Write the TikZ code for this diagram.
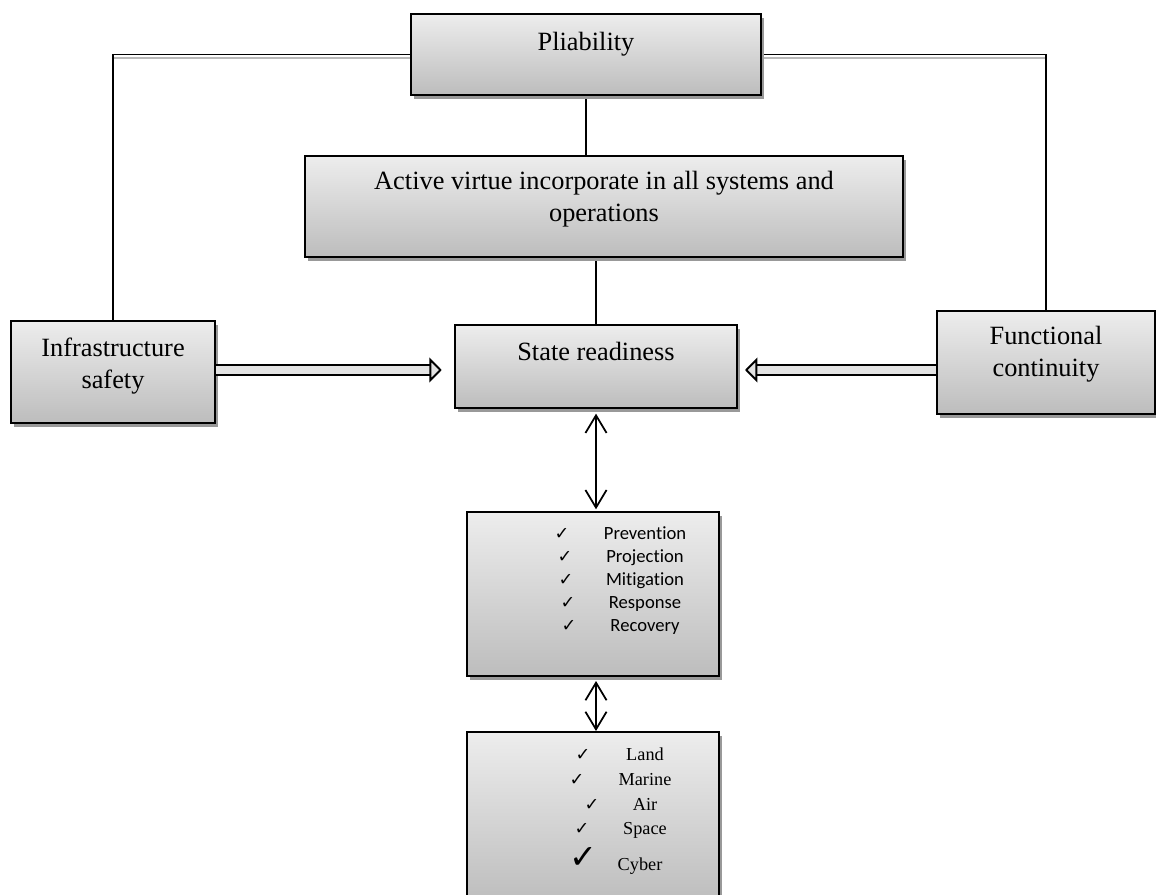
\documentclass[tikz,border=0pt]{standalone}
\usepackage{fontspec}
\setmainfont{Liberation Serif}
\newfontfamily\listfont[Ligatures=NoCommon]{Carlito}
\newfontfamily\tickfont{DejaVu Sans}
\usetikzlibrary{arrows.meta,shadows,backgrounds}

\begin{document}
\begin{tikzpicture}[
  x=0.02cm, y=-0.02cm,
  box/.style={draw, line width=1.1pt, top color=gray!14, bottom color=gray!52,
    drop shadow={shadow xshift=1.7pt, shadow yshift=-2.3pt, fill=gray!80, opacity=1},
    align=center, inner sep=0pt, font=\fontsize{15}{18}\selectfont},
  link/.style={line width=0.9pt, preaction={draw=gray!55, line width=0.9pt, transform canvas={yshift=-2pt}}},
  twoway/.style={line width=1pt, {Straight Barb[length=10pt,width=12pt]}-{Straight Barb[length=10pt,width=12pt]}},
  hollow/.style={line width=1.1pt, double=gray!22, double distance=4.6pt,
    -{Triangle[open, length=7pt, width=14pt, fill=gray!22]}},
  ticksign/.style={inner sep=0pt, font=\tickfont\fontsize{10}{12}\selectfont},
  phaseitem/.style={inner sep=0pt, font=\listfont\fontsize{10.6}{12}\selectfont},
  areaitem/.style={inner sep=0pt, font=\fontsize{10.4}{12}\selectfont}
]
\useasboundingbox (0,0) rectangle (1156,895);

% boxes
\node[box, minimum width=350*0.02cm, text height=20.4pt, text depth=25.5pt] (pliab) at (586,54.5) {Pliability};
\node[box, minimum width=598*0.02cm, minimum height=101*0.02cm] (virtue) at (604,206.5)
  {Active virtue incorporate in all systems and\\ operations\rule[-11.8pt]{0pt}{1pt}};
\node[box, minimum width=204*0.02cm, minimum height=102*0.02cm] (infra) at (113,372)
  {Infrastructure\\ safety\rule[-10pt]{0pt}{1pt}};
\node[box, minimum width=282*0.02cm, text height=19.8pt, text depth=27.2pt] (state) at (596,366.5) {State readiness};
\node[box, minimum width=218*0.02cm, minimum height=103*0.02cm] (funct) at (1046,362.5)
  {Functional\\ continuity\rule[-13pt]{0pt}{1pt}};
\node[box, minimum width=252*0.02cm, minimum height=164*0.02cm] (phases) at (593,594) {};
\node[box, minimum width=252*0.02cm, minimum height=172*0.02cm] (areas) at (593,818) {};

% phases list
\foreach \cx/\by/\word [count=\i] in {562/539/Prevention, 565/562/Projection, 566/585/Mitigation, 568/608/Response, 569/631/Recovery} {
  \node[ticksign, anchor=base] (pt\i) at (\cx,\by) {✓};
  \node[phaseitem, anchor=base] (pw\i) at (645,\by) {\word};
}

% areas list
\foreach \cx/\by/\word [count=\i] in {583/760/Land, 577/785/Marine, 592/810/Air, 582/834/Space} {
  \node[ticksign, anchor=base] (at\i) at (\cx,\by) {✓};
  \node[areaitem, anchor=base] (aw\i) at (645,\by) {\word};
}
\node[ticksign, font=\tickfont\fontsize{19}{20}\selectfont, anchor=base] (at5) at (583,868) {✓};
\node[areaitem, anchor=base] (aw5) at (640,870) {Cyber};

% connectors
\coordinate (mid) at (0,370);
\begin{scope}[on background layer]
\draw[link] (pliab.west) -| (infra.north);
\draw[link] (pliab.east) -| (funct.north);
\draw[link] (pliab.south) -- (pliab.south |- virtue.north);
\draw[link] (state.north |- virtue.south) -- (state.north);
\end{scope}
\draw[hollow, shorten >=7pt] (infra.east |- mid) -- (state.west |- mid);
\draw[hollow, shorten >=4pt] (funct.west |- mid) -- (state.east |- mid);
\draw[twoway, shorten <=2.8pt, shorten >=1pt] (state.south) -- (state.south |- phases.north);
\draw[twoway, shorten <=2.3pt] (state.south |- phases.south) -- (state.south |- areas.north);
\end{tikzpicture}
\end{document}
